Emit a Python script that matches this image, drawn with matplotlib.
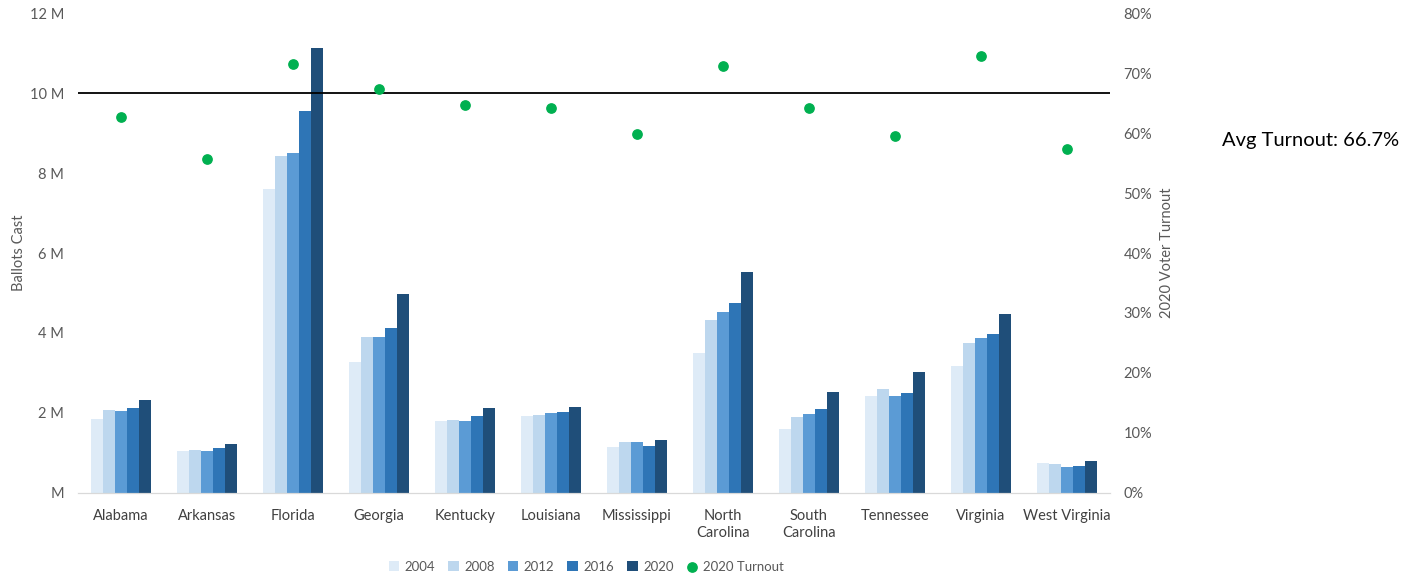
import matplotlib.pyplot as plt
import numpy as np
from matplotlib.ticker import FuncFormatter

plt.rcParams['font.family'] = ['Lato', 'DejaVu Sans']

# 주별 투표수 (백만 단위)
states = ["Alabama", "Arkansas", "Florida", "Georgia", "Kentucky", "Louisiana",
          "Mississippi", "North\nCarolina", "South\nCarolina", "Tennessee",
          "Virginia", "West Virginia"]
years = ["2004", "2008", "2012", "2016", "2020"]
ballots_2004 = [1.85, 1.05, 7.60, 3.28, 1.80, 1.92, 1.14, 3.50, 1.60, 2.43, 3.18, 0.75]
ballots_2008 = [2.08, 1.07, 8.43, 3.89, 1.82, 1.95, 1.27, 4.33, 1.89, 2.60, 3.74, 0.72]
ballots_2012 = [2.05, 1.04, 8.51, 3.89, 1.79, 1.99, 1.27, 4.52, 1.96, 2.43, 3.87, 0.65]
ballots_2016 = [2.12, 1.11, 9.56, 4.13, 1.92, 2.02, 1.18, 4.75, 2.09, 2.50, 3.97, 0.68]
ballots_2020 = [2.31, 1.22, 11.12, 4.98, 2.11, 2.15, 1.31, 5.53, 2.51, 3.02, 4.48, 0.79]
turnout_2020 = [62.7, 55.7, 71.5, 67.4, 64.7, 64.2, 59.9, 71.2, 64.2, 59.5, 72.8, 57.3]
avg_turnout = 66.7

colors = ["#DEEBF7", "#BDD7EE", "#5B9BD5", "#2E75B6", "#1F4E79"]
series = [ballots_2004, ballots_2008, ballots_2012, ballots_2016, ballots_2020]
gray = "#595959"

fig = plt.figure(figsize=(14.19, 5.77), dpi=100)
ax = fig.add_axes([0.055, 0.146, 0.727, 0.831])
ax2 = ax.twinx()

x = np.arange(len(states))
w = 0.14
for i, (vals, c, yr) in enumerate(zip(series, colors, years)):
    ax.bar(x + (i - 2) * w, vals, w, color=c, label=yr, zorder=2)

ax2.scatter(x, turnout_2020, s=45, color="#00B050", zorder=3, label="2020 Turnout")
ax2.axhline(avg_turnout, color="black", lw=1.3, zorder=1)

ax.set_xlim(-0.5, len(states) - 0.5)
ax.set_ylim(0, 12)
ax2.set_ylim(0, 80)
ax.set_yticks(range(0, 13, 2))
ax.yaxis.set_major_formatter(FuncFormatter(lambda v, p: "M" if v == 0 else f"{int(v)} M"))
ax2.set_yticks(range(0, 81, 10))
ax2.yaxis.set_major_formatter(FuncFormatter(lambda v, p: f"{int(v)}%"))

ax.set_xticks(x)
ax.set_xticklabels(states)
for a in (ax, ax2):
    for s in ["top", "left", "right"]:
        a.spines[s].set_visible(False)
    a.spines["bottom"].set_color("#D9D9D9")
    a.tick_params(axis="both", length=0, colors=gray, labelsize=10.5, pad=10)
ax.tick_params(axis="x", pad=12, colors="#404040")

ax.set_ylabel("Ballots Cast", color=gray, fontsize=10.5)
ax.yaxis.set_label_coords(-0.05, 0.5)
ax2.set_ylabel("2020 Voter Turnout", color=gray, fontsize=10.5)
ax2.yaxis.set_label_coords(1.049, 0.5)

fig.text(0.861, 0.757, f"Avg Turnout: {avg_turnout}%", fontsize=14.5, color="black", va="center")

h1, l1 = ax.get_legend_handles_labels()
h2, l2 = ax2.get_legend_handles_labels()
leg = fig.legend(h1 + h2, l1 + l2, loc="center", bbox_to_anchor=(0.413, 0.018), ncol=6,
                 frameon=False, fontsize=9.5, handlelength=0.8, handleheight=0.8,
                 handletextpad=0.4, columnspacing=1.0, labelcolor=gray)
for h in leg.legend_handles[-1:]:
    h.set_sizes([45])

fig.savefig("out.png", dpi=100)
